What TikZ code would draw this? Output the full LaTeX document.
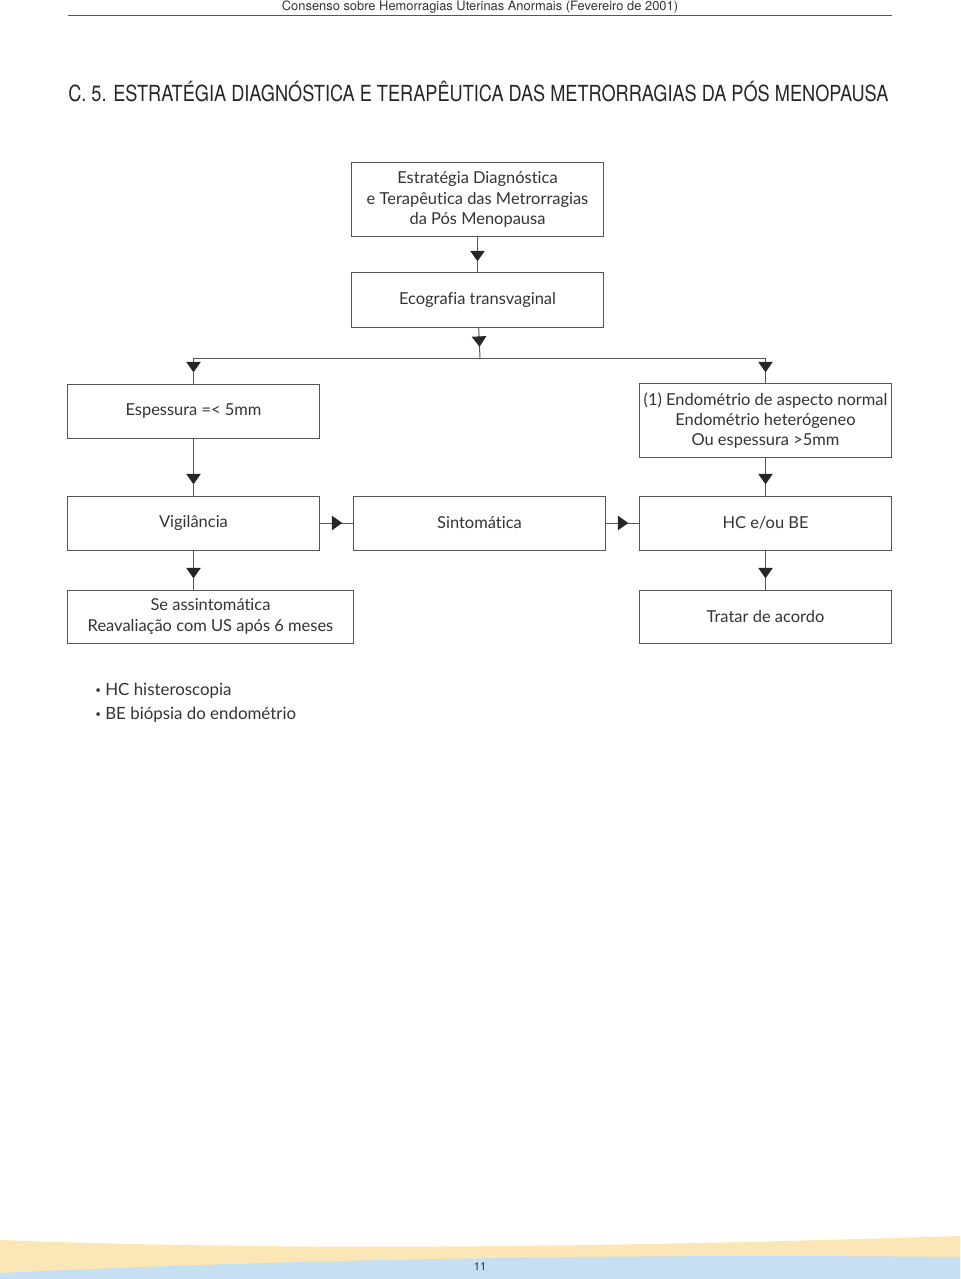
\documentclass[tikz,border=0pt]{standalone}
\usepackage{fontspec}
\setmainfont[Ligatures=NoCommon]{Lato}
\newfontfamily\herosfont{TeX Gyre Heros}
\newfontfamily\condfont[FakeStretch=0.82]{TeX Gyre Heros}
\usetikzlibrary{arrows.meta,decorations.markings}
\definecolor{linha}{HTML}{555555}
\definecolor{texto}{HTML}{333333}
\definecolor{faixaamarela}{HTML}{FCE6B6}
\definecolor{faixaazul}{HTML}{C6DFF3}
\newcommand{\marcador}{\raisebox{0.25ex}{\scriptsize\textbullet}}
\tikzset{
    caixa/.style={draw=linha,line width=0.7pt,align=center,text=texto,
        font=\fontsize{11.7}{14.5}\selectfont,inner sep=0pt,
        minimum width=6.275cm,minimum height=1.35cm},
    seta/.style={draw=linha,line width=0.7pt,postaction={decorate},
        decoration={markings,mark=at position -0.28cm with
        {\arrow[black!85]{Triangle[width=0.36cm,length=0.26cm]}}}}
}

\begin{document}
\begin{tikzpicture}[x=0.025cm,y=-0.025cm]
\useasboundingbox (0,0) rectangle (960,1279);

% Faixas do rodapé
\fill[faixaamarela] (0,1240) .. controls (320,1252) and (640,1246) .. (960,1236) -- (960,1279) -- (0,1279) -- cycle;
\fill[faixaazul] (0,1273) .. controls (320,1258) and (640,1254) .. (960,1257) -- (960,1279) -- (0,1279) -- cycle;
\node[text=texto,font=\herosfont\fontsize{8}{10}\selectfont] (pag) at (480,1266) {11};

% Cabeçalho e título
\node[text=texto,inner sep=0pt] (cab) at (480,7) {\resizebox{9.9cm}{!}{\herosfont\fontsize{8}{10}\selectfont Consenso sobre Hemorragias Uterinas Anormais (Fevereiro de 2001)}};
\draw[linha,line width=0.6pt] (68,15) -- (892,15);
\node[anchor=west,inner sep=0pt,text=black!85] (titulo) at (68,91.5) {\resizebox{20.5cm}{!}{\condfont\fontsize{16}{19}\selectfont C. 5. ESTRATÉGIA DIAGNÓSTICA E TERAPÊUTICA DAS METRORRAGIAS DA PÓS MENOPAUSA}};

% Caixas do fluxograma
\node[caixa,minimum height=1.825cm] (estrat) at (477.5,199.5) {Estratégia Diagnóstica\\ e Terapêutica das Metrorragias\\ da Pós Menopausa};
\node[caixa] (eco) at (477.5,300) {Ecografia transvaginal};
\node[caixa] (esp) at (193.5,411) {Espessura =< 5mm};
\node[caixa,minimum height=1.825cm] (endo) at (765.5,420.5) {(1) Endométrio de aspecto normal\\ Endométrio heterógeneo\\ Ou espessura >5mm};
\node[caixa] (vig) at (193.5,523) {Vigilância};
\node[caixa] (sint) at (479.5,523) {Sintomática};
\node[caixa] (hc) at (765.5,523) {HC e/ou BE};
\node[caixa,minimum width=7.125cm,minimum height=1.325cm] (seas) at (210.5,616.5) {Se assintomática\\ Reavaliação com US após 6 meses};
\node[caixa,minimum height=1.325cm] (tratar) at (765.5,616.5) {Tratar de acordo};
\coordinate (ramo) at (480,358);

% Setas
\draw[seta] (estrat) -- (eco);
\draw[seta] (eco) -- (ramo);
\draw[seta] (ramo) -| (esp.north);
\draw[seta] (ramo) -| (endo.north);
\draw[seta] (esp) -- (vig);
\draw[seta] (endo) -- (hc);
\draw[seta] (vig) -- (sint);
\draw[seta] (sint) -- (hc);
\draw[seta] (vig.south) -- (vig.south |- seas.north);
\draw[seta] (hc) -- (tratar);

% Notas
\node[anchor=north west,align=left,text=texto,inner sep=0pt,
    font=\fontsize{12}{17}\selectfont] (notas) at (95,683) {\marcador\ HC histeroscopia\\ \marcador\ BE biópsia do endométrio};
\end{tikzpicture}
\end{document}
